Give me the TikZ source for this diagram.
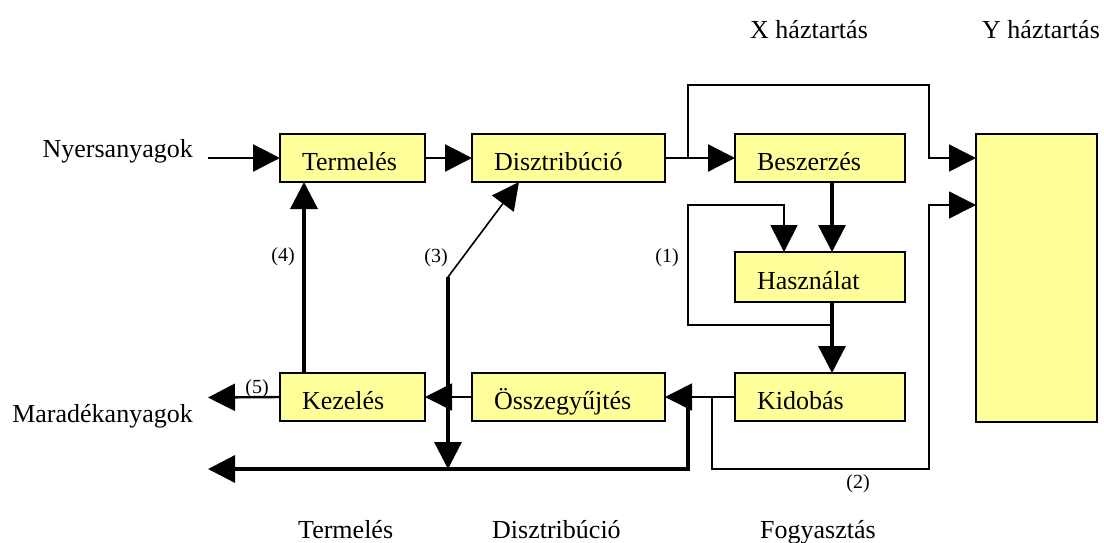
\documentclass[tikz,border=0pt]{standalone}
\usepackage{fontspec}
\setmainfont{Liberation Serif}
\usetikzlibrary{arrows.meta}
\definecolor{boxfill}{RGB}{255,255,153}
\begin{document}
\begin{tikzpicture}[x=1pt,y=-1pt,
  font=\fontsize{26}{30}\selectfont,
  box/.style={draw, line width=2.6pt, fill=boxfill, outer sep=0pt, anchor=north west,
    minimum height=48pt, inner xsep=22pt, inner ysep=0pt,
    text height=26pt, text depth=2pt, align=left},
  lbl/.style={inner sep=0pt},
  num/.style={inner sep=0pt, font=\fontsize{20}{24}\selectfont},
  tip/.style={-{Triangle[length=27pt,width=27pt]}},
  heavy/.style={line width=3.3pt},
  medium/.style={line width=2.4pt},
  light/.style={line width=1.6pt},
]
\useasboundingbox (0,0) rectangle (1104,542);

% process boxes
\node[box, minimum width=145pt, text width=101pt] (T)  at (280,134) {Termelés};
\node[box, minimum width=193pt, text width=149pt] (D)  at (472,134) {Disztribúció};
\node[box, minimum width=170pt, text width=126pt] (B)  at (735,134) {Beszerzés};
\node[box, minimum width=170pt, text width=126pt, minimum height=50pt] (H) at (735,252) {Használat};
\node[box, minimum width=170pt, text width=126pt] (K)  at (735,373) {Kidobás};
\node[box, minimum width=145pt, text width=101pt] (Ke) at (280,373) {Kezelés};
\node[box, minimum width=193pt, text width=149pt] (O)  at (472,373) {Összegyűjtés};
\node[box, minimum width=121pt, minimum height=288pt] (Y) at (976,134) {};

% free ends and bends
\coordinate (nyin) at (208,158);
\coordinate (sp)   at (688,158);
\coordinate (tr)   at (929,85);
\coordinate (cx)   at (832,0);
\coordinate (u1)   at (832,325);
\coordinate (lt1)  at (688,205);
\coordinate (x1)   at (784,0);
\coordinate (j1)   at (688,397.5);
\coordinate (k2)   at (712,397.5);
\coordinate (br2)  at (929,469);
\coordinate (y2)   at (0,205);
\coordinate (bl)   at (208,469);
\coordinate (p3)   at (448,277);
\coordinate (d3)   at (519,0);
\coordinate (c4)   at (304,0);
\coordinate (ml)   at (208,397.5);

% main flow
\draw[medium,tip] (nyin) -- (T.west);
\draw[medium,tip] (T.east) -- (D.west);
\draw[medium,tip] (D.east) -- (B.west);
\draw[light,tip] (sp) |- (tr) |- (Y.west |- sp);
\draw[heavy,tip] (B.south -| cx) -- (H.north -| cx);
\draw[light,tip] (u1) -| (lt1) -| (H.north -| x1);
\draw[heavy,tip] (H.south -| cx) -- (K.north -| cx);
\draw[light,tip] (K.west) -- (O.east);
\draw[heavy,tip] (j1) |- (bl);
\draw[light,tip] (k2) |- (br2) |- (Y.west |- y2);
\draw[light,tip] (O.west) -- (Ke.east);
\draw[heavy,tip] (p3) -- (p3 |- bl);
\draw[light,tip] (p3) -- (D.south -| d3);
\draw[heavy,tip] (Ke.north -| c4) -- (T.south -| c4);
\draw[medium,tip] (Ke.west) -- (ml);

% labels
\node[lbl, anchor=base east] (nyers) at (193,157) {Nyersanyagok};
\node[lbl, anchor=base east] (marad) at (193,422) {Maradékanyagok};
\node[lbl, anchor=base west] (xh) at (750,38) {X háztartás};
\node[lbl, anchor=base west] (yh) at (982,38) {Y háztartás};
\node[lbl, anchor=base west] (ft) at (298,538) {Termelés};
\node[lbl, anchor=base west] (fd) at (492,538) {Disztribúció};
\node[lbl, anchor=base west] (ff) at (760,538) {Fogyasztás};
\node[num] (n1) at (667,258) {(1)};
\node[num] (n2) at (858,484) {(2)};
\node[num] (n3) at (436,258) {(3)};
\node[num] (n4) at (283,257) {(4)};
\node[num] (n5) at (257,389) {(5)};
\end{tikzpicture}
\end{document}
